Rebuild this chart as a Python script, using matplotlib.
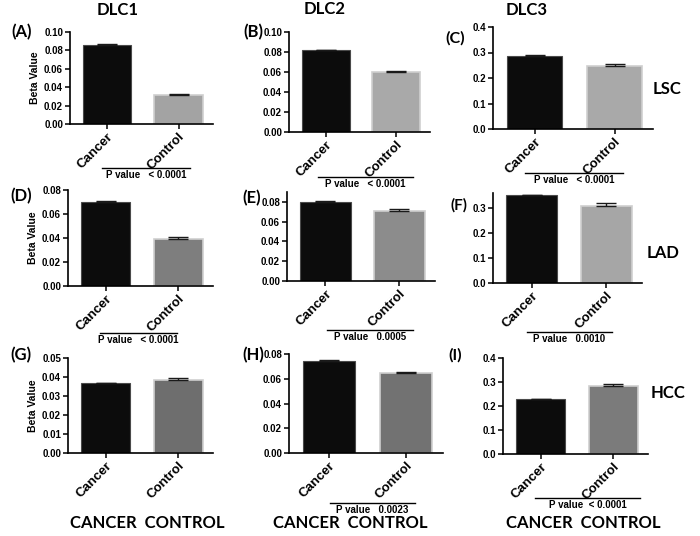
import matplotlib
matplotlib.use("Agg")
import matplotlib.pyplot as plt
from matplotlib.lines import Line2D
import numpy as np

W, H = 700, 536

# ---------------------------------------------------------------------------
# data, panel order A..I
panel_tags = ["(A)", "(B)", "(C)", "(D)", "(E)", "(F)", "(G)", "(H)", "(I)"]
groups = ["Cancer", "Control"]
cancer_mean = [0.0855, 0.0815, 0.288, 0.0700, 0.0803, 0.352, 0.0366, 0.0746, 0.229]
cancer_err = [0.0010, 0.0004, 0.003, 0.0012, 0.0008, 0.002, 0.0004, 0.0006, 0.002]
control_mean = [0.0314, 0.0600, 0.247, 0.0390, 0.0705, 0.310, 0.0385, 0.0644, 0.282]
control_err = [0.0010, 0.0008, 0.009, 0.0015, 0.0025, 0.009, 0.0012, 0.0008, 0.008]
y_max = [0.10, 0.10, 0.4, 0.08, 0.09, 0.36, 0.05, 0.08, 0.4]
y_ticks = [
    [0.00, 0.02, 0.04, 0.06, 0.08, 0.10],
    [0.00, 0.02, 0.04, 0.06, 0.08, 0.10],
    [0.0, 0.1, 0.2, 0.3, 0.4],
    [0.00, 0.02, 0.04, 0.06, 0.08],
    [0.00, 0.02, 0.04, 0.06, 0.08],
    [0.0, 0.1, 0.2, 0.3],
    [0.00, 0.01, 0.02, 0.03, 0.04, 0.05],
    [0.00, 0.02, 0.04, 0.06, 0.08],
    [0.0, 0.1, 0.2, 0.3, 0.4],
]
tick_fmt = ["%.2f", "%.2f", "%.1f", "%.2f", "%.2f", "%.1f", "%.2f", "%.2f", "%.1f"]
p_text = ["P value   < 0.0001", "P value   < 0.0001", "P value   < 0.0001",
          "P value   < 0.0001", "P value   0.0005", "P value   0.0010",
          None, "P value   0.0023", "P value  < 0.0001"]
control_color = ["#a3a3a3", "#a9a9a9", "#a9a9a9", "#7e7e7e", "#8c8c8c",
                 "#a6a6a6", "#6e6e6e", "#727272", "#7b7b7b"]
gene_titles = ["DLC1", "DLC2", "DLC3"]
tissue_labels = ["LSC", "LAD", "HCC"]

# ---------------------------------------------------------------------------
# layout in pixels: (left, top, right, bottom) of each axes
rects = [
    (70, 32, 213, 124), (289, 32, 430, 132), (493, 27, 653, 129),
    (68, 190, 213, 286), (287, 192, 435, 281), (493, 193, 642, 283),
    (68, 358, 213, 453), (289, 354, 443, 453), (503, 358, 648, 454),
]
tag_pos = [(11, 32), (243, 32), (445, 38), (10, 196), (242, 198), (451, 205),
           (10, 355), (242, 355), (448, 355)]
tag_size = [12, 12, 11.5, 12, 12, 11, 12, 12, 11.5]
pline = [(102, 190, 168), (318, 413, 177), (525, 623, 173),
         (100, 177, 333), (327, 413, 330), (527, 612, 332),
         None, (330, 415, 503), (535, 640, 498)]
title_pos = [(118, 10), (325, 9), (527, 10)]
tissue_pos = [(667, 89), (663, 253), (668, 393)]
cc_pos = [(147, 523), (350, 523), (583, 523)]

TICK_FONT = "Liberation Sans"
HEAD_FONT = "Lato"

fig = plt.figure(figsize=(W / 100, H / 100), dpi=100)
fig.patch.set_facecolor("white")


def px(x, y):
    return x / W, 1 - y / H


for i in range(9):
    l, t, r, b = rects[i]
    ax = fig.add_axes([l / W, 1 - b / H, (r - l) / W, (b - t) / H])
    xs = np.arange(2)
    ax.bar(xs[0], cancer_mean[i], width=0.68, color="#0c0c0c",
           edgecolor="#4a4a4a", linewidth=0.8, zorder=2)
    ax.bar(xs[1], control_mean[i], width=0.68, color=control_color[i],
           edgecolor="#cfcfcf", linewidth=1.2, zorder=2)
    ax.errorbar(xs, [cancer_mean[i], control_mean[i]],
                yerr=[[0, 0], [cancer_err[i], control_err[i]]],
                fmt="none", ecolor="#1a1a1a", elinewidth=1.0, capsize=7,
                capthick=1.0, zorder=3)
    ax.set_xlim(-0.52, 1.48)
    ax.set_ylim(0, y_max[i])
    ax.set_yticks(y_ticks[i])
    ax.set_yticklabels([tick_fmt[i] % v for v in y_ticks[i]],
                       fontfamily=TICK_FONT, fontweight="bold", fontsize=7)
    ax.set_xticks(xs)
    ax.set_xticklabels(groups, rotation=45, ha="right", rotation_mode="anchor",
                       fontfamily=TICK_FONT, fontweight="bold", fontsize=9.5)
    for s in ("top", "right"):
        ax.spines[s].set_visible(False)
    for s in ("left", "bottom"):
        ax.spines[s].set_linewidth(1.2)
    ax.tick_params(axis="both", length=3.5, width=1.1, pad=1.5)
    if i % 3 == 0:
        ax.set_ylabel("Beta Value", fontfamily=TICK_FONT, fontweight="bold",
                      fontsize=7.5, labelpad=3)

    tx, ty = px(*tag_pos[i])
    fig.text(tx, ty, panel_tags[i], fontfamily=HEAD_FONT, fontweight="bold",
             fontsize=tag_size[i], va="center", ha="left")

    if pline[i] is not None:
        x0, x1, yl = pline[i]
        fx0, fy = px(x0, yl)
        fx1, _ = px(x1, yl)
        fig.add_artist(Line2D([fx0, fx1], [fy, fy], color="black", lw=1.0))
        cx, cy = px((x0 + x1) / 2, yl + 7)
        fig.text(cx, cy, p_text[i], fontfamily=TICK_FONT, fontweight="bold",
                 fontsize=7, ha="center", va="center")

for k in range(3):
    x, y = px(*title_pos[k])
    fig.text(x, y, gene_titles[k], fontfamily=HEAD_FONT, fontweight="bold",
             fontsize=12, ha="center", va="center")
    x, y = px(*tissue_pos[k])
    fig.text(x, y, tissue_labels[k], fontfamily=HEAD_FONT, fontweight="bold",
             fontsize=12, ha="center", va="center")
    x, y = px(*cc_pos[k])
    fig.text(x, y, "CANCER  CONTROL", fontfamily=HEAD_FONT, fontweight="bold",
             fontsize=12, ha="center", va="center")

fig.savefig("out.png", dpi=100, facecolor="white")
